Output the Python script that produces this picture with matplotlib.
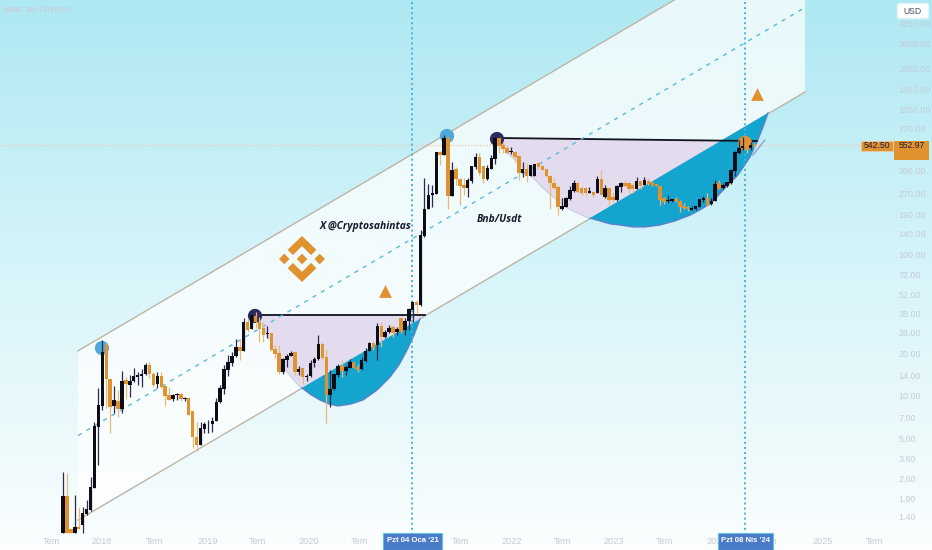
"""
BNB/USDT 2 week candles on a log scale with trend channel and cup drawings
"""

### Import modules
import numpy as np
import matplotlib
matplotlib.use('Agg')
import matplotlib.pyplot as plt
from matplotlib.patches import Polygon, Rectangle, FancyBboxPatch

### Candles (USD)
opens = [1.07,1.97,1.16,1.07,1.19,1.22,1.48,1.57,2.24,6.0,
         8.5,22.8,13.2,8.5,9.2,8.1,12.9,12.0,12.7,13.7,
         13.8,14.4,16.5,14.2,12.2,13.9,11.7,10.1,9.5,10.1,
         10.4,9.5,9.6,7.85,5.17,4.5,5.85,6.3,6.3,6.65,
         9.0,11.2,15.2,17.2,19.2,22.0,20.6,33.5,29.7,36.7,
         33.5,30.0,27.2,27.7,21.5,20.0,14.8,17.9,19.2,20.4,
         14.8,15.7,13.5,13.8,17.2,18.1,23.3,18.7,10.1,11.2,
         14.0,16.3,15.1,15.8,17.3,16.1,15.4,17.7,20.8,23.5,
         23.0,31.4,25.9,28.1,30.8,28.1,35.3,29.3,34.0,40.5,
         46.3,43.9,134,208,264,266,529,501,658,257,
         397,340,308,296,330,410,483,419,340,403,
         470,658,590,558,524,529,493,372,403,356,
         358,438,421,397,356,320,300,208,217,245,
         279,320,295,295,272,277,271,338,252,294,
         252,241,300,320,320,307,289,329,307,330,
         322,312,303,248,238,238,244,237,220,214,
         206,208,216,241,248,225,237,316,294,303,
         316,387,515,558,658,567,596]
highs = [2.92,2.85,1.16,1.99,1.65,1.65,1.84,2.7,6.6,11.3,
         24.8,23.5,13.2,11.7,11.0,14.9,13.7,14.1,15.8,14.7,
         15.6,17.2,17.4,14.7,14.7,14.7,11.9,11.5,10.4,10.5,
         10.5,9.8,9.8,7.85,6.6,6.5,6.6,6.8,7.15,9.65,
         11.9,16.5,19.5,20.3,25.3,25.4,35.3,35.3,40.5,39.4,
         36.3,33.5,31.2,27.7,22.9,22.9,18.4,19.8,20.9,20.4,
         16.3,15.7,14.2,17.9,18.7,26.9,24.2,21.5,15.2,14.4,
         16.7,17.9,16.5,18.1,17.4,16.8,18.7,21.7,24.2,24.2,
         32.6,33.0,29.3,31.7,31.7,30.8,35.3,35.3,41.6,46.3,
         47.6,149,343,314,308,529,535,694,675,449,
         410,343,343,343,419,521,521,419,426,501,
         658,658,623,590,568,535,501,449,438,426,
         433,449,426,403,363,343,308,248,255,303,
         334,325,303,300,300,277,356,392,307,294,
         270,307,325,335,325,320,349,330,349,343,
         325,312,303,255,261,244,252,241,231,219,
         219,219,244,257,271,248,335,335,316,325,
         397,538,640,675,675,622,610]
lows = [1.07,1.07,1.07,1.07,1.15,1.07,1.45,1.54,2.24,3.25,
        8.0,8.2,5.45,7.55,7.05,7.55,9.5,9.9,12.6,12.0,
        11.6,14.1,13.3,11.6,11.3,11.3,8.5,9.3,9.15,9.4,
        9.15,9.15,7.35,4.28,4.12,4.5,5.45,5.45,5.6,6.65,
        8.9,10.4,13.9,16.3,18.8,17.9,20.6,28.4,29.7,30.0,
        24.2,24.2,25.5,20.9,18.4,14.2,14.4,15.9,19.0,14.0,
        14.0,12.1,12.8,13.5,15.9,17.9,17.9,6.4,8.4,11.0,
        13.7,13.7,14.0,15.7,15.7,14.8,15.2,17.4,20.6,21.1,
        17.9,22.3,25.5,27.7,25.9,26.9,27.7,26.9,29.3,33.5,
        38.4,43,132,208,215,266,426,501,210,257,
        308,222,262,252,317,403,363,320,334,397,
        433,516,516,507,507,449,334,352,325,356,
        356,403,393,352,210,291,188,205,215,241,
        276,269,262,257,269,255,270,260,248,222,
        235,238,277,300,271,270,287,291,307,307,
        303,303,222,226,231,235,235,199,208,203,
        205,205,214,235,220,222,237,287,289,300,
        313,356,507,544,515,544,560]
closes = [1.97,1.07,1.07,1.18,1.15,1.50,1.58,2.29,6.1,8.6,
          20.5,13.2,8.4,9.4,8.1,12.7,12.1,12.7,13.8,14.0,
          14.4,16.5,14.2,12.0,13.9,11.6,10.0,9.4,10.1,10.4,
          9.5,9.6,7.35,5.17,4.5,5.9,6.3,6.35,6.7,9.1,
          11.3,15.6,17.3,19.2,22.2,20.6,33.5,29.3,37.3,33.0,
          29.5,26.9,27.9,21.1,19.8,14.8,18.1,19.2,20.2,14.8,
          15.5,13.7,13.8,17.2,18.2,23.3,18.4,10.1,11.2,14.2,
          16.3,15.1,15.9,17.4,15.8,15.2,17.9,20.9,23.5,21.7,
          31.4,25.9,28.1,30.0,27.7,29.7,28.4,34.0,40.9,46.3,
          43.9,137,210,263,272,529,501,658,257,393,
          338,303,296,334,419,483,372,338,407,475,
          658,584,550,516,535,488,375,397,356,426,
          433,410,393,356,317,295,215,219,248,283,
          320,276,269,272,279,262,338,261,294,241,
          241,303,320,304,287,287,329,303,335,313,
          303,303,241,235,241,244,237,214,211,208,
          211,218,244,248,222,238,312,291,307,322,
          392,530,567,580,550,590,580]
first_bar = 2017.62
bar_step = 14/365.25

### Trend channel
channel_x = [2017.766,2024.859]
channel_up = [20.8,21750]
channel_mid = [5.26,5520]
channel_low = [1.33,1397]

### Cups, arc from top left round to the tip on the channel
cup1_x = [2019.463,2019.541,2019.639,2019.737,2019.805,2019.883,2019.951,2020.039,
          2020.127,2020.215,2020.302,2020.429,2020.546,2020.683,2020.81,2020.898,
          2020.976,2021.044,2021.102]
cup1_y = [37.3,33.3,24.8,18,14.8,12.6,11.4,10.2,9.37,8.78,8.5,8.78,9.37,11,13.6,16.6,
          21.1,26.9,34.9]
cup1_top_x = [2019.463,2021.151]
cup1_top_y = [37.3,37.3]
cup2_x = [2021.854,2021.98,2022.176,2022.322,2022.439,2022.517,2022.615,2022.761,
          2022.859,2022.956,2023.054,2023.18,2023.298,2023.444,2023.59,2023.737,
          2023.834,2023.932,2023.99,2024.059,2024.127,2024.205,2024.263,2024.322,
          2024.39,2024.449,2024.498]
cup2_y = [662,502,363,284,242,216,199,180,172,164,161,156,156,161,172,189,206,227,250,
          284,319,363,420,486,620,791,994]
cup2_top_x = [2021.854,2024.39]
cup2_top_y = [662,630]
tail_x = [2024.351,2024.468]
tail_y = [502,641]

### Markers on the chart
circle_x = [2018.0,2021.366,2019.493,2021.854,2024.273]
circle_y = [21.8,684,36.7,651,610]
circle_c = ['#4FA8D8','#4FA8D8','#2E2A5E','#2E2A5E','#E0912F']
triangle_x = [2020.761,2024.39]
triangle_y = [55.1,1354]
marked_dates = [2021.024,2024.273]
last_price = 590

### Axis labels
price_ticks = [1.4,1.9,2.6,3.6,5,7,10,14,20,28,38,52,72,100,140,190,270,390,
               770,1050,1450,2050,3050,4250]
price_labels = ['1.40','1.90','2.60','3.60','5.00','7.00','10.00','14.00','20.00',
                '28.00','38.00','52.00','72.00','100.00','140.00','190.00','270.00',
                '390.00','770.00','1050.00','1450.00','2050.00','3050.00','4250.00']
time_ticks = [2017.51,2018,2018.51,2019.03,2019.52,2020.02,2020.51,2021.0,2021.5,
              2022.0,2022.49,2022.99,2023.49,2024.0,2024.5,2025.03,2025.54]
time_labels = ['Tem','2018','Tem','2019','Tem','2020','Tem','2021','Tem','2022',
               'Tem','2023','Tem','2024','Tem','2025','Tem']

plt.rc('font',family=['Liberation Sans','DejaVu Sans'])
orange = '#E0922F'
blue = '#14A5CE'
grey = '#C5CBD8'

fig = plt.figure(figsize=(9.32,5.5),dpi=100)

### Background gradient
ax_bg = fig.add_axes([0,0,1,1],zorder=-1)
rows = np.arange(550)
grad = np.zeros((550,1,3))
for i,stops in enumerate([(174,216,238,252),(232,245,250,254),(242,250,252,255)]):
    grad[:,0,i] = np.interp(rows,[0,280,450,550],stops)/255.
ax_bg.imshow(grad,aspect='auto')
ax_bg.axis('off')

### Main axes, price on log scale
ax = fig.add_axes([0,0,1,1],zorder=1)
ax.set_facecolor('none')
ax.set_yscale('log')
ax.set_xlim(2017.005,2026.098)
ax.set_ylim(0.818,6234)
for loc in ax.spines:
    ax.spines[loc].set_visible(False)

ax.set_yticks(price_ticks)
ax.set_yticklabels(price_labels)
ax.yaxis.set_minor_locator(plt.NullLocator())
ax.tick_params(axis='y',which='both',left=False,right=False,labelleft=False,labelright=True,
               pad=-27.5,labelsize=6.4,labelcolor=grey)
ax.set_xticks(time_ticks)
ax.set_xticklabels(time_labels)
ax.tick_params(axis='x',which='both',bottom=False,pad=-12.5,labelsize=6.6,labelcolor=grey)

### Channel
ch_poly = Polygon(list(zip(channel_x,channel_low))+list(zip(channel_x[::-1],channel_up[::-1])),
                  closed=True,facecolor='white',alpha=0.72,edgecolor='none',zorder=1)
ax.add_patch(ch_poly)
ax.plot(channel_x,channel_up,color='#BDB5A5',linewidth=1,zorder=2)
ax.plot(channel_x,channel_low,color='#BDB5A5',linewidth=1,zorder=2)
ax.plot(channel_x,channel_mid,color='#5BB8DE',linewidth=1,linestyle=(0,(3,4)),zorder=6)

### Cups
def channel_price(year):
    frac = (year-channel_x[0])/(channel_x[1]-channel_x[0])
    return channel_low[0]*(channel_low[1]/channel_low[0])**frac

def draw_cup(xs,ys,top_x,top_y,tip,meet):
    tip_y = channel_price(xs[tip])
    meet_y = channel_price(meet)
    lav = [(top_x[0],top_y[0]),(meet,top_y[1]),(meet,meet_y),(xs[tip],tip_y)]
    lav += list(zip(xs[:tip],ys[:tip]))[::-1]
    ax.add_patch(Polygon(lav,closed=True,facecolor='#E3DCEF',edgecolor='#C9CFDC',
                         linewidth=0.8,zorder=3))
    ax.add_patch(Polygon(list(zip(xs[tip:],ys[tip:])),closed=True,facecolor=blue,
                         edgecolor='none',zorder=4))
    ax.plot(xs[tip:],ys[tip:],color='#5B7FC7',linewidth=1,zorder=4)
    ax.plot(top_x,top_y,color='#14141E',linewidth=1.3,zorder=5)

draw_cup(cup1_x,cup1_y,cup1_top_x,cup1_top_y,6,2021.102)
draw_cup(cup2_x,cup2_y,cup2_top_x,cup2_top_y,7,2024.06)
ax.plot(tail_x,tail_y,color='#8FA3CF',linewidth=1,zorder=5)

### Dotted date and price lines
for date in marked_dates:
    ax.axvline(date,color='#45B3E0',linewidth=1.4,linestyle=(0,(1,1.6)),zorder=6)
ax.plot([2017.005,2025.415],[last_price,last_price],color='#EBCDB0',linewidth=1,
        linestyle=(0,(1,1.2)),zorder=2)

### Circles and triangles
ax.scatter(circle_x,circle_y,s=105,c=circle_c,linewidths=0,zorder=7)
ax.scatter(triangle_x,triangle_y,s=85,marker='^',color=orange,linewidths=0,zorder=7)

### Candles
opens = np.array(opens)
closes = np.array(closes)
highs = np.array(highs)
lows = np.array(lows)
bar_x = first_bar+np.arange(len(closes))*bar_step
up = closes >= opens
ax.vlines(bar_x[up],lows[up],highs[up],color='#2D2850',linewidth=0.9,zorder=8)
ax.vlines(bar_x[~up],lows[~up],highs[~up],color='#EBB978',linewidth=0.9,zorder=8)
tops = np.maximum(opens,closes)
bots = np.minimum(opens,closes)
ax.bar(bar_x[up],(tops-bots)[up],bottom=bots[up],width=0.034,color='#0D0D18',
       linewidth=0,zorder=9)
ax.bar(bar_x[~up],(tops-bots)[~up],bottom=bots[~up],width=0.034,color=orange,
       linewidth=0,zorder=9)

### Overlay in pixels for the labels and the logo
ui = fig.add_axes([0,0,1,1],zorder=5)
ui.set_xlim(0,932)
ui.set_ylim(550,0)
ui.axis('off')
ui.patch.set_visible(False)

ui.text(5,10,'BNB, 2H, CRYPTO',color='#C9CCD8',fontsize=5.4,fontweight='bold',va='center')
ui.text(320,227,'X @Cryptosahintas',color='#1A1A2E',fontsize=7.4,fontweight='bold',
        style='italic',va='center',family='Open Sans')
ui.text(477,220,'Bnb/Usdt',color='#1A1A2E',fontsize=7.4,fontweight='bold',
        style='italic',va='center',family='Open Sans')

ui.add_patch(FancyBboxPatch((899,5),28,12,boxstyle='round,pad=1.5,rounding_size=2',
                            facecolor='white',edgecolor='#E3F4F8',linewidth=1))
ui.text(903,11,'USD',color='#4A4E68',fontsize=6.2,va='center')

ui.add_patch(Rectangle((861,141),32,10,facecolor=orange,edgecolor='#EBCDB0',linewidth=0.5))
ui.text(877,146,'542.50',color='#1A1A3A',fontsize=6.2,ha='center',va='center')
ui.add_patch(Rectangle((894,141),35,19,facecolor=orange,edgecolor='none'))
ui.text(899,146,'552.97',color='#1A1A3A',fontsize=6.2,va='center')

for box_x,box_w,lab in [(383,59,"Pzt 04 Oca '21"),(718,55,"Pzt 08 Nis '24")]:
    ui.add_patch(Rectangle((box_x,533),box_w,17,facecolor='#4A7BC8',edgecolor='#5FC0E0',
                           linewidth=0.8))
    ui.text(box_x+box_w/2.,541,lab,color='white',fontsize=5.6,fontweight='bold',
            ha='center',va='center')

### Binance logo
logo_x,logo_y,logo_r = 302,259,23
chevron = [(0,1),(.625,.4),(.395,.17),(0,.56),(-.395,.17),(-.625,.4)]
diamond = [(0,.23),(.23,0),(0,-.23),(-.23,0)]
shapes = [chevron,[(p,-q) for p,q in chevron],diamond,
          [(p+.77,q) for p,q in diamond],[(p-.77,q) for p,q in diamond]]
for shape in shapes:
    pts = [(logo_x+p*logo_r,logo_y-q*logo_r) for p,q in shape]
    ui.add_patch(Polygon(pts,closed=True,facecolor=orange,edgecolor='none'))

### Save figure
plt.savefig('out.png',dpi=100)
